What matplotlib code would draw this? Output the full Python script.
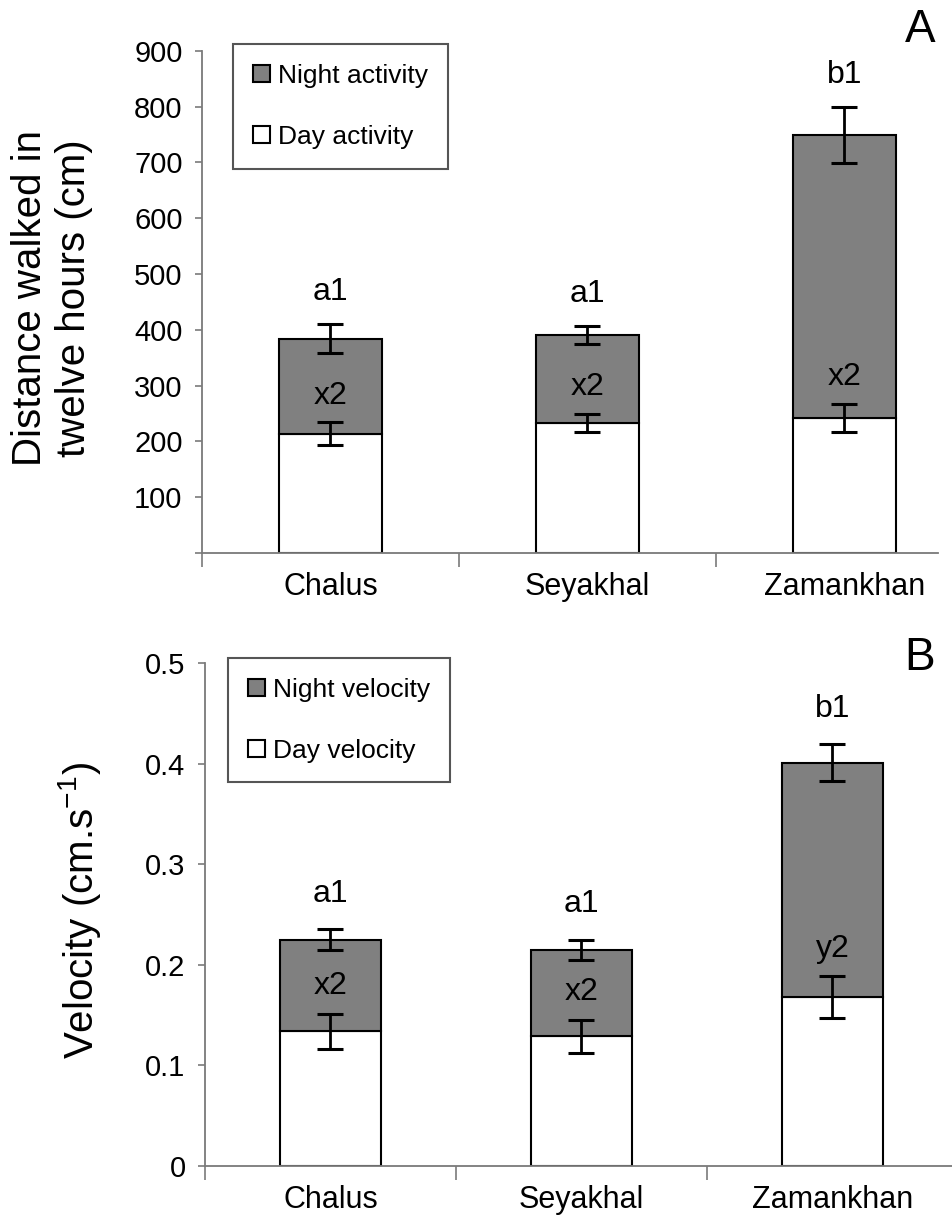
import matplotlib
matplotlib.use("Agg")
import numpy as np
import matplotlib.pyplot as plt
from matplotlib.patches import Patch

plt.rcParams['font.family'] = ['Liberation Sans', 'DejaVu Sans']
plt.rcParams['mathtext.fontset'] = 'custom'
plt.rcParams['mathtext.rm'] = 'Liberation Sans'
plt.rcParams['mathtext.default'] = 'regular'

sites = ['Chalus', 'Seyakhal', 'Zamankhan']

# panel A: distance walked (cm), stacked day + night
dist_day = [214, 233, 242]
dist_day_err = [20, 16, 25]
dist_total = [384, 391, 749]
dist_total_err = [26, 16, 50]
dist_top_letters = ['a1', 'a1', 'b1']
dist_mid_letters = ['x2', 'x2', 'x2']

# panel B: velocity (cm/s), stacked day + night
vel_day = [0.134, 0.129, 0.168]
vel_day_err = [0.0175, 0.0165, 0.021]
vel_total = [0.225, 0.215, 0.401]
vel_total_err = [0.0105, 0.010, 0.0185]
vel_top_letters = ['a1', 'a1', 'b1']
vel_mid_letters = ['x2', 'x2', 'y2']

GREY = '#808080'
AXC = '#7a7a7a'


def panel(ax, day, day_err, total, total_err, top_let, mid_let,
          xmax, ymax, yticks, ylabels, legend_labels, leg_anchor,
          top_off, mid_off):
    x = np.arange(len(sites))
    night = np.array(total) - np.array(day)
    ax.bar(x, day, width=0.4, color='white', edgecolor='black', lw=1.5, zorder=2)
    ax.bar(x, night, bottom=day, width=0.4, color=GREY, edgecolor='black',
           lw=1.5, zorder=2)
    ax.errorbar(x, day, yerr=day_err, fmt='none', ecolor='black', elinewidth=2,
                capsize=9.5, capthick=2.2, zorder=3)
    ax.errorbar(x, total, yerr=total_err, fmt='none', ecolor='black',
                elinewidth=2, capsize=9.5, capthick=2.2, zorder=3)
    for i in range(len(sites)):
        ax.text(x[i], total[i] + total_err[i] + top_off, top_let[i],
                ha='center', va='center', fontsize=23, zorder=4)
        ax.text(x[i], day[i] + day_err[i] + mid_off, mid_let[i],
                ha='center', va='center', fontsize=23, zorder=4)

    ax.set_xlim(-0.5, xmax)
    ax.set_ylim(0, ymax)
    ax.set_xticks(x)
    ax.set_xticklabels(sites, fontsize=22)
    ax.set_xticks(np.arange(len(sites)) - 0.5, minor=True)
    ax.tick_params(axis='x', which='major', length=0, pad=14)
    ax.tick_params(axis='x', which='minor', length=10, width=1.2, color=AXC)
    ax.set_yticks(yticks)
    ax.set_yticklabels(ylabels, fontsize=21)
    ax.tick_params(axis='y', length=5, width=1.2, color=AXC, pad=9)
    for s in ['top', 'right']:
        ax.spines[s].set_visible(False)
    for s in ['left', 'bottom']:
        ax.spines[s].set_color(AXC)
        ax.spines[s].set_linewidth(1.3)

    handles = [Patch(facecolor=GREY, edgecolor='black', lw=1.5),
               Patch(facecolor='white', edgecolor='black', lw=1.5)]
    leg = ax.legend(handles, legend_labels, loc='upper left',
                    bbox_to_anchor=leg_anchor, borderaxespad=0,
                    fontsize=19, handlelength=0.65, handleheight=0.65,
                    handletextpad=0.3, labelspacing=1.4, borderpad=0.75,
                    fancybox=False, framealpha=1)
    leg.get_frame().set_edgecolor('#555555')
    leg.get_frame().set_linewidth(1.5)


fig = plt.figure(figsize=(9.53, 12.18), dpi=100)
ax1 = fig.add_axes([202 / 953, 1 - 553 / 1218, 736 / 953, 502.3 / 1218])
ax2 = fig.add_axes([205 / 953, 1 - 1166 / 1218, 748 / 953, 503 / 1218])

ticks_a = list(range(0, 1000, 100))
panel(ax1, dist_day, dist_day_err, dist_total, dist_total_err,
      dist_top_letters, dist_mid_letters,
      -0.5 + 736 / 257, 900, ticks_a, [''] + [str(t) for t in ticks_a[1:]],
      ['Night activity', 'Day activity'], (0.042, 1.013), 57, 48)

ticks_b = [0, 0.1, 0.2, 0.3, 0.4, 0.5]
panel(ax2, vel_day, vel_day_err, vel_total, vel_total_err,
      vel_top_letters, vel_mid_letters,
      -0.5 + 748 / 251, 0.5, ticks_b, ['0', '0.1', '0.2', '0.3', '0.4', '0.5'],
      ['Night velocity', 'Day velocity'], (0.031, 1.01), 0.035, 0.027)

fig.text(52 / 953, 1 - 298 / 1218, 'Distance walked in\ntwelve hours (cm)',
         rotation=90, ha='center', va='center', fontsize=29, linespacing=1.2)
fig.text(80 / 953, 1 - 911 / 1218, 'Velocity (cm.s$^{-1}$)',
         rotation=90, ha='center', va='center', fontsize=29)

fig.text(920 / 953, 1 - 30 / 1218, 'A', ha='center', va='center', fontsize=33)
fig.text(920 / 953, 1 - 658 / 1218, 'B', ha='center', va='center', fontsize=33)

fig.savefig('out.png', dpi=100)
